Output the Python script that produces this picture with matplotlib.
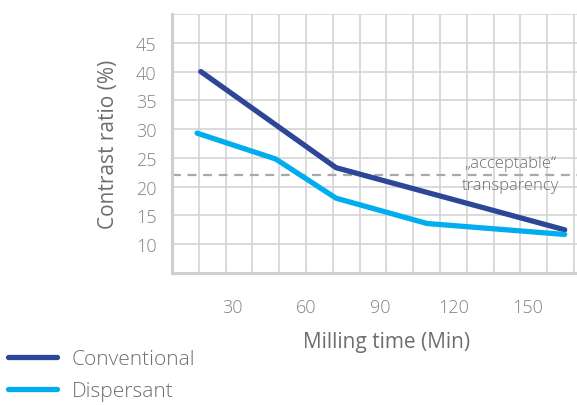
import numpy as np
import matplotlib
matplotlib.use('Agg')
import matplotlib.pyplot as plt

plt.rcParams['font.family'] = ['Open Sans', 'DejaVu Sans']
plt.rcParams['font.weight'] = 'light'

# data
conv_x = [17, 72, 165]
conv_y = [40.0, 23.3, 12.5]
disp_x = [15.5, 47.5, 72, 109, 165]
disp_y = [29.3, 24.8, 18.0, 13.6, 11.7]
threshold = 22
x_ticks = [30, 60, 90, 120, 150]
y_ticks = [10, 15, 20, 25, 30, 35, 40, 45]

dark_blue = '#2e4698'
light_blue = '#00aeef'
text_grey = '#6d6e71'
grid_grey = '#d4d4d4'

fig = plt.figure(figsize=(5.77, 4.06), dpi=100)
ax = fig.add_axes([172 / 577, 1 - 274 / 406, 1 - 172 / 577, (274 - 15) / 406])

ax.set_xlim(5.3, 170)
ax.set_ylim(5, 50)

# background grid
for gx in np.arange(5.3 + 10.9, 170, 10.9):
    ax.axvline(gx, color=grid_grey, lw=1.2, zorder=0)
for gy in range(10, 51, 5):
    ax.axhline(gy, color=grid_grey, lw=1.2, zorder=0)

ax.plot(conv_x, conv_y, color=dark_blue, lw=3.8, solid_capstyle='round', label='Conventional', zorder=3)
ax.plot(disp_x, disp_y, color=light_blue, lw=3.8, solid_capstyle='round', label='Dispersant', zorder=3)

ax.axhline(threshold, color='#a7a9ac', lw=1.6, ls=(0, (4, 3)), zorder=2)
ax.text(143, threshold + 0.7, '\u201eacceptable\u201c', ha='center', va='bottom',
        fontsize=12, color=text_grey)
ax.text(143, threshold - 0.3, 'transparency', ha='center', va='top',
        fontsize=12, color=text_grey)

for side in ['top', 'right']:
    ax.spines[side].set_visible(False)
for side in ['left', 'bottom']:
    ax.spines[side].set_color('#cfcfcf')
    ax.spines[side].set_linewidth(2.2)

ax.set_xticks(x_ticks)
ax.set_yticks(y_ticks)
ax.tick_params(length=0, labelsize=13, labelcolor='#808285')
ax.tick_params(axis='x', pad=18)
ax.tick_params(axis='y', pad=11)

ax.set_xlabel('Milling time (Min)', fontsize=15, color=text_grey, labelpad=11)
ax.xaxis.label.set_x(0.531)
ax.set_ylabel('Contrast ratio (%)', fontsize=15, color=text_grey, labelpad=12)

fig.legend(loc='upper left', bbox_to_anchor=(8 / 577, 1 - 350 / 406), frameon=False,
           borderaxespad=0, borderpad=0, fontsize=15, handlelength=2.35,
           handletextpad=0.72, labelspacing=0.6, labelcolor=text_grey)

fig.savefig('out.png', dpi=100)
